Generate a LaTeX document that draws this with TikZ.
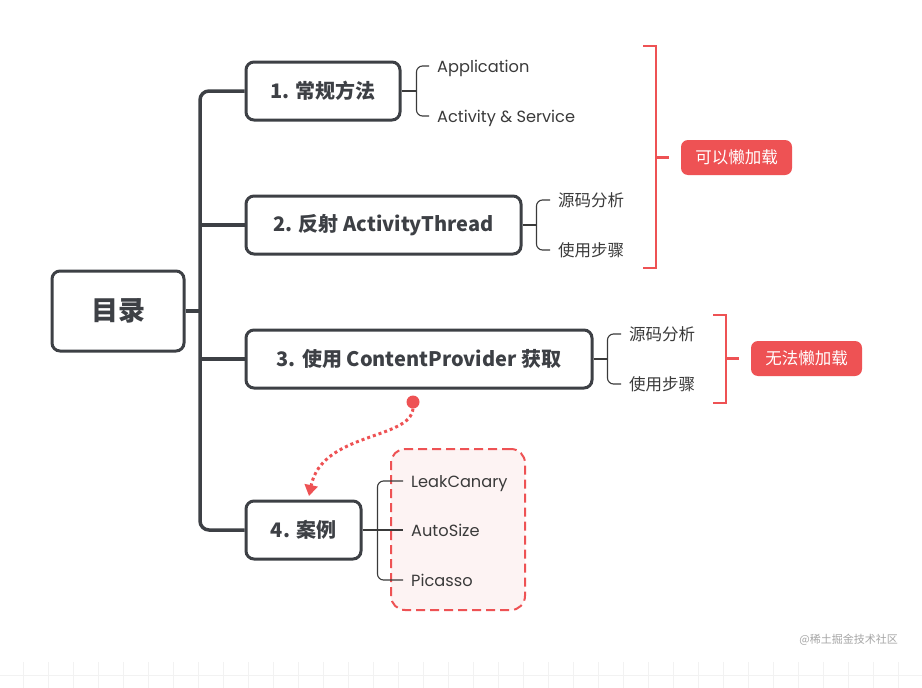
\documentclass[tikz,border=0pt]{standalone}
\usepackage{fontspec}
\setmainfont{Noto Sans CJK SC}
\newfontfamily\latinf{Poppins}
\usetikzlibrary{calc,arrows.meta}
\definecolor{dk}{HTML}{3D4045}
\definecolor{rd}{HTML}{EE5254}
\definecolor{pk}{HTML}{FDF3F3}
\definecolor{lf}{HTML}{3A3A3A}
\tikzset{
  mainbox/.style={draw=dk, line width=3, rounded corners=8, minimum height=58, inner sep=0, font=\fontsize{20}{24}\selectfont\bfseries, text=dk},
  conn/.style={draw=dk, line width=3.5},
  leafline/.style={draw=lf, line width=1.1, rounded corners=6},
  leaf/.style={anchor=west, inner xsep=8, inner ysep=2, font=\fontsize{16.5}{19}\selectfont, text=lf},
  lleaf/.style={leaf, font=\latinf\fontsize{16.2}{19}\selectfont, text height=14, text depth=1},
  tag/.style={fill=rd, rounded corners=7, text=white, minimum width=111, minimum height=35, inner sep=0, font=\fontsize{16.5}{19}\selectfont},
  redbr/.style={draw=rd, line width=2.2},
}
\begin{document}
\begin{tikzpicture}[x=1pt,y=-1pt]
\useasboundingbox (0,0) rectangle (922,688);
\fill[white] (0,0) rectangle (922,688);
% faint grid at bottom
\foreach \x in {23,48,...,922} \draw[black!5, line width=0.6] (\x,662) -- (\x,688);
\draw[black!5, line width=0.6] (0,675) -- (922,675);
% dashed group box
\node[draw=rd, dashed, dash pattern=on 9 off 5, line width=2, fill=pk, rounded corners=14, minimum width=134, minimum height=161, inner sep=0] (grp) at (458,529.5) {};
% root and branches
\node[mainbox, minimum width=132, minimum height=80, font=\fontsize{27}{30}\selectfont\bfseries] (root) at (118,311) {目录};
\node[mainbox, minimum width=154] (b1) at (323,91) {1. 常规方法};
\node[mainbox, minimum width=275] (b2) at (383.5,225) {2. 反射 ActivityThread};
\node[mainbox, minimum width=346] (b3) at (419,359) {3. 使用 ContentProvider 获取};
\node[mainbox, minimum width=115] (b4) at (303.5,530) {4. 案例};
\coordinate (trunk) at (200,311);
\draw[conn, rounded corners=9] (b1.west) -| (trunk) |- (b4.west);
\draw[conn] (root.east) -- (trunk);
\draw[conn] (trunk |- b2.west) -- (b2.west);
\draw[conn] (trunk |- b3.west) -- (b3.west);
% leaves
\node[lleaf] (a1) at (429,66) {Application};
\node[lleaf] (a2) at (429,116) {Activity \& Service};
\node[leaf] (c1) at (550,200) {源码分析};
\node[leaf] (c2) at (550,250) {使用步骤};
\node[leaf] (d1) at (621,334) {源码分析};
\node[leaf] (d2) at (621,384) {使用步骤};
\node[lleaf] (e1) at (403,481) {LeakCanary};
\node[lleaf] (e2) at (403,530) {AutoSize};
\node[lleaf] (e3) at (403,580) {Picasso};
\coordinate (j1) at ($(b1.east)+(15,0)$);
\coordinate (j2) at ($(b2.east)+(14,0)$);
\coordinate (j3) at ($(b3.east)+(14,0)$);
\coordinate (j4) at ($(b4.east)+(15,0)$);
\draw[leafline] (b1.east) -- (j1);
\draw[leafline] (a1.west) -| (j1) |- (a2.west);
\draw[leafline] (b2.east) -- (j2);
\draw[leafline] (c1.west) -| (j2) |- (c2.west);
\draw[leafline] (b3.east) -- (j3);
\draw[leafline] (d1.west) -| (j3) |- (d2.west);
\draw[leafline] (b4.east) -- (e2.west);
\draw[leafline] (e1.west) -| (j4) |- (e3.west);
% red brackets and tags
\node[tag] (t1) at (736.5,157.5) {可以懒加载};
\node[tag] (t2) at (806.5,358.5) {无法懒加载};
\coordinate (r1t) at (656,46);
\coordinate (r1b) at (656,268);
\coordinate (r1m) at (656,157.5);
\draw[redbr] ($(r1t)+(-13,0)$) -- (r1t) -- (r1b) -- ($(r1b)+(-13,0)$);
\draw[redbr] (r1m) -- ($(r1m)+(13,0)$);
\coordinate (r2t) at (726,315);
\coordinate (r2b) at (726,403);
\coordinate (r2m) at (726,358.5);
\draw[redbr] ($(r2t)+(-13,0)$) -- (r2t) -- (r2b) -- ($(r2b)+(-13,0)$);
\draw[redbr] (r2m) -- ($(r2m)+(13,0)$);
% dotted arrow
\node[circle, fill=rd, minimum size=13, inner sep=0] (ds) at (413,402) {};
\coordinate (de) at (309,496);
\draw[rd, line width=3, dash pattern=on 3 off 3, -{Triangle[length=11,width=13]}] (ds.south) .. controls (410,440) and (322,432) .. (de);
% watermark
\node[anchor=east, text=black!35, font=\fontsize{11}{13}\selectfont, inner sep=0] (wm) at (898,640) {@稀土掘金技术社区};
\end{tikzpicture}
\end{document}
